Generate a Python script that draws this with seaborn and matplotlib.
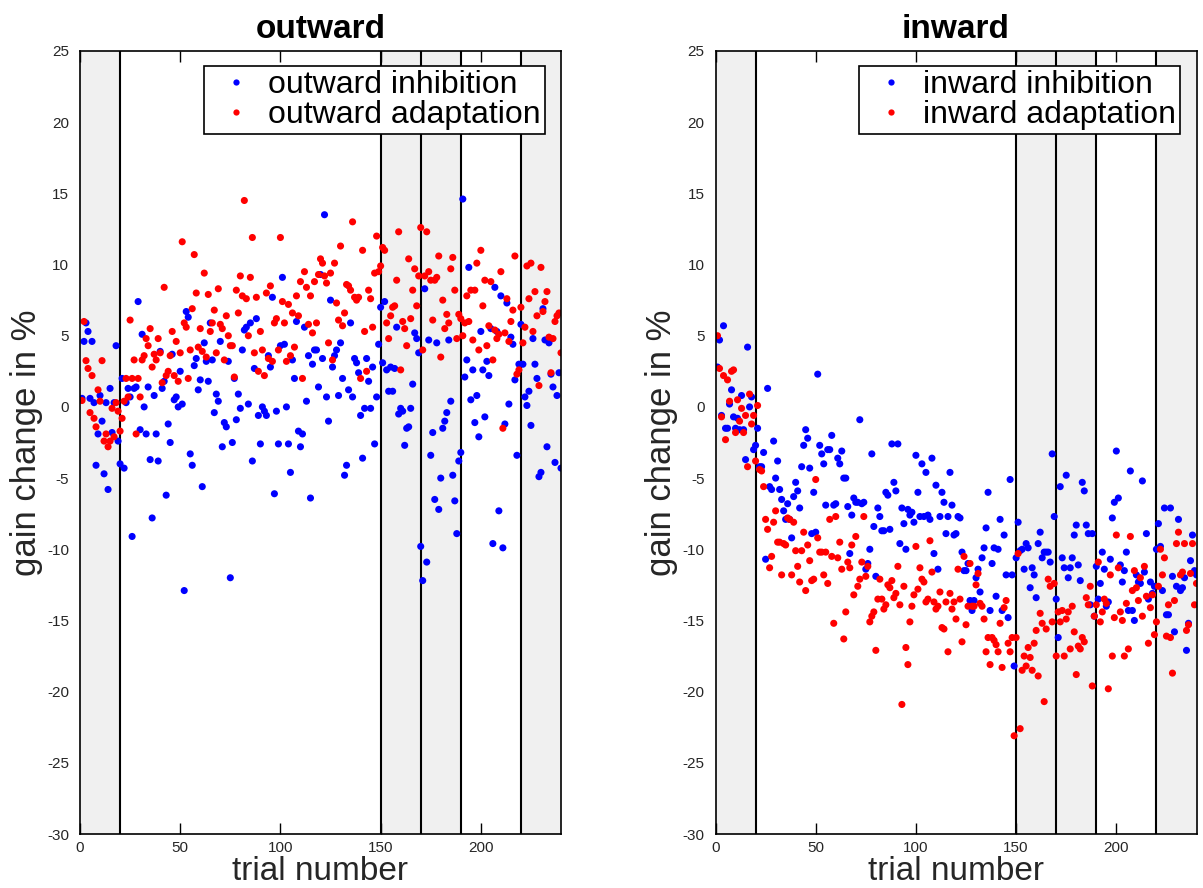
import numpy as np
import pandas as pd
import matplotlib
matplotlib.use("Agg")
import matplotlib.pyplot as plt
from matplotlib.lines import Line2D
import seaborn as sns

# trial numbers and block layout of the experiment
trials = np.arange(1, 241)
block_edges = [20, 150, 170, 190, 220]
shaded_blocks = [(0, 20), (150, 170), (170, 190), (220, 240)]
x_ticks = [0, 50, 100, 150, 200]
y_ticks = list(range(-30, 26, 5))

# gain change in % per trial
outward_inhibition = [
    0.6, 4.6, 5.9, 5.3, 0.6, 4.6, 0.3, -4.1, -1.9, 0.8,
    -1.0, -4.7, 0.3, -5.8, 1.3, -1.8, 0.3, 4.3, -2.4, -4.0,
    2.0, -4.3, 0.3, 1.3, 0.7, -9.1, 1.3, 1.4, 7.4, -1.6,
    5.1, 0.0, -1.9, 1.4, -3.7, -7.8, 0.8, -1.9, -3.8, 3.9,
    1.3, 1.8, -6.2, -1.2, -2.5, 3.7, 0.5, 0.7, 0.0, 2.5,
    0.2, -12.9, 6.7, 6.3, -3.3, -4.1, 2.9, 3.4, 1.2, 1.9,
    -5.6, 4.5, 3.2, 1.8, 5.9, 3.3, -0.4, 0.9, 0.4, 4.6,
    -2.8, -1.1, -1.4, 3.2, -12.0, -2.5, 2.0, -0.9, 0.9, -0.1,
    4.0, 5.4, 5.6, 0.2, 5.9, -3.8, 2.7, 6.2, -0.6, -2.6,
    0.0, -0.3, -0.6, 3.6, 2.8, 7.7, -6.1, -0.3, -2.6, 4.3,
    9.1, 4.4, 0.0, -2.6, -4.6, 3.3, 2.0, 6.0, -1.7, -2.8,
    -1.9, 5.6, 0.4, 3.6, -6.4, 3.0, 4.0, 4.0, 1.4, 9.3,
    3.4, 13.5, 0.7, -1.0, 7.5, 2.8, 3.6, 4.0, 0.8, 4.5,
    2.0, -4.8, -4.1, 1.2, 5.9, 0.7, 3.4, 3.1, 2.4, -0.6,
    -3.6, -0.1, 3.4, 1.8, -0.1, 2.8, -2.6, 0.7, 4.4, 7.0,
    3.1, 7.4, 2.6, 1.1, 2.8, 1.1, 2.7, 5.6, -0.5,
    -0.1, -0.3, -2.7, -1.5, -1.4, -0.1, 1.6, 5.2, 4.8, 3.8,
    -9.8, -12.2, 8.3, -10.9, 4.7, -3.4, -1.8, -6.5, 4.5, -7.2,
    -5.0, -1.5, -1.0, -0.4, 4.7, 0.4, -4.8, -6.6, -8.9, -3.8,
    -3.2, 14.6, 2.1, 3.3, 9.8, 0.5, 2.6, -1.1, 0.8, -2.1,
    5.3, 2.6, -0.7, 3.2, 2.2, 5.5, -9.6, 8.4, 5.3, -7.3,
    7.8, -9.9, -1.2, 7.3, 0.2, 4.9, 4.4, 1.9, -3.4, 3.0,
    5.8, 3.0, 0.7, 0.1, 1.1, -1.3, 4.8, 3.0, 2.0, -4.9,
    -4.6, 6.9, 4.7, -2.8, 4.5, 2.3, 1.4, -3.9, 0.8, 2.4,
    -4.3,
]

outward_adaptation = [
    0.45, 6.0, 3.25, 2.7, -0.4, 2.2, -0.8, -1.4, 1.2, 0.4,
    3.25, -2.4, -1.9, -2.8, -2.4, -0.1, -2.1, 0.3, -0.3, -1.7,
    -0.8, 0.4, 2.0, 0.7, 6.1, 2.0, 3.3, -1.9, 2.0, 0.7,
    3.3, 3.6, 4.8, 4.3, 5.5, 2.8, 3.7, 3.3, 4.8, 3.8,
    1.7, 8.4, 2.2, 2.5, 3.6, 5.3, 2.2, 4.6, 1.8, 3.8,
    11.6, 5.9, 5.6, 2.0, 4.0, 6.9, 10.7, 8.0, 4.2, 5.5,
    3.9, 9.4, 3.5, 7.9, 5.3, 5.9, 6.8, 3.8, 8.3, 5.8,
    5.5, 3.3, 6.4, 5.0, 4.3, 4.3, 2.1, 8.2, 6.6, 9.2,
    7.8, 14.5, 7.6, 5.0, 9.1, 11.9, 3.8, 7.7, 2.5, 5.3,
    4.0, 2.2, 8.0, 3.4, 8.5, 3.2, 5.9, 6.2, 4.0, 11.9,
    7.4, 5.9, 3.2, 7.2, 3.6, 6.6, 4.2, 7.8, 6.4, 8.8,
    2.0, 9.5, 8.4, 5.8, 7.8, 5.2, 8.8, 5.9, 9.3, 10.4,
    10.1, 9.2, 8.7, 4.5, 9.4, 3.3, 10.1, 7.3, 6.1, 11.3,
    5.7, 6.6, 8.6, 8.5, 8.2, 13.0, 7.7, 7.5, 7.7, 2.0,
    11.0, 5.3, 2.5, 8.2, 7.6, 5.6, 9.4, 12.0, 9.5, 9.9,
    11.2, 11.0, 5.9, 4.8, 6.4, 7.0, 7.1, 8.9, 12.3, 2.6,
    6.0,
    5.5, 4.3, 10.4, 6.2, 8.2, 9.7, 7.1, 9.2, 12.6, 4.0,
    9.2, 12.3, 9.5, 8.9, 6.1, 8.9, 9.1, 10.6, 3.5, 7.5,
    5.5, 6.5, 5.9, 9.7, 10.5, 8.2, 4.8, 6.5, 6.2, 5.0,
    5.9, 7.8, 6.0, 8.2, 4.7, 8.2, 10.1, 4.0, 11.0, 7.1,
    8.9, 4.3, 5.7, 8.8, 3.3, 5.4, 4.8, 5.1, 9.5, -1.5,
    5.2, 7.6, 4.6, 6.0, 6.8, 10.6, 2.3, 2.6, 7.0, 4.5,
    5.6, 9.9, 7.6, 10.1, 5.3, 8.1, 6.4, 1.5, 9.8, 6.7,
    7.4, 8.1, 4.9, 2.4, 4.8, 6.0, 6.4, 6.6, 3.8,
]

inward_inhibition = [
    2.8, 4.7, -0.6, 5.7, -1.5, -1.5, 0.2, 1.2, -0.7, -1.5,
    -0.8, -1.6, 0.8, -1.6, -3.7, 4.2, 0.0, 0.7, -3.0, -2.7,
    -1.5, -4.2, -4.2, -3.2, -10.7, 1.3, -5.6, -5.8, -2.4, -5.0,
    -3.8, -5.8, -6.5, -7.3, -7.9, -6.8, -7.9, -9.2, -6.3, -5.3,
    -5.9, -7.1, -4.2, -2.7, -1.6, -2.2, -4.3, -8.9, -6.0, -8.8,
    2.3, -2.7, -3.3, -4.0, -6.9, -3.0, -3.0, -2.0, -6.9, -6.8,
    -3.6, -4.0, -3.1, -5.0, -5.0, -7.0, -10.3, -7.6, -6.4, -6.7,
    -6.7, -0.9, -6.8, -6.7, -11.4, -11.0, -10.0, -3.3, -8.4, -11.9,
    -7.1, -7.7, -8.7, -8.7, -6.0, -6.2, -8.6, -2.6, -5.3, -5.9,
    -2.6, -9.6, -7.1, -8.2, -10.0, -7.2, -7.6, -7.4, -8.1, -3.4,
    -6.0, -7.7, -4.0, -7.7, -4.6, -7.6, -7.9, -3.6, -10.3, -5.5,
    -11.4, -7.7, -6.0, -6.7, -8.9, -7.7, -4.6, -6.9, -9.0, -8.9,
    -7.7, -7.8, -10.2, -11.5, -11.5, -11.0, -13.6, -14.3, -13.6, -12.0,
    -11.4, -13.0, -10.6, -9.9, -8.5, -6.0, -14.3, -11.0, -9.9, -13.3,
    -10.0, -7.9, -14.3, -9.0, -11.8, -14.8, -5.1, -11.8, -18.2, -10.6,
    -8.1, -10.1, -10.0, -11.4, -9.6, -9.9, -12.7, -11.3, -11.8,
    -13.4, -9.6, -8.8, -10.6, -10.2, -10.2, -10.2, -10.9, -3.3, -7.7,
    -13.5, -16.2, -5.6, -10.6, -11.3, -4.8, -12.0, -11.3, -10.6, -9.0,
    -8.3, -11.1, -12.2, -5.3, -5.9, -8.3, -8.9, -13.9, -8.9, -14.7,
    -11.2, -13.5, -12.4, -10.2, -11.4, -14.0, -13.7, -10.7, -7.8, -6.7,
    -3.1, -6.4, -11.1, -12.3, -11.5, -10.2, -14.3, -4.5, -14.3, -15.0,
    -11.8, -12.3, -12.4, -5.2, -11.6, -8.9, -13.5, -12.3, -13.1, -12.6,
    -10.0, -8.2, -9.8, -12.9, -7.1, -14.6, -14.6, -7.1, -11.9, -15.8,
    -12.6, -7.9, -12.9, -12.7, -12.0, -17.1, -15.2, -10.8, -9.0, -11.5,
    -11.8,
]

inward_adaptation = [
    5.0, 2.7, -0.7, 2.2, -2.3, 1.9, 0.4, 2.5, 2.6, -1.8,
    0.5, -1.0, -0.1, -1.8, -0.6, -4.2, 0.9, -1.2, -0.6, -3.8,
    0.1, -4.4, -4.5, -5.6, -7.9, -8.6, -11.3, -10.5, -8.1, -7.3,
    -9.5, -9.5, -11.8, -9.6, -9.7, -7.8, -7.9, -11.8, -8.1, -10.1,
    -11.2, -12.3, -10.1, -8.8, -12.9, -9.7, -10.8, -12.2, -12.1, -5.1,
    -9.2, -10.2, -10.2, -11.8, -10.2, -12.4, -7.9, -10.5, -15.2, -7.7,
    -10.6, -9.5, -11.4, -16.3, -14.4, -10.9, -11.3, -9.7, -13.2, -9.1,
    -12.6, -12.1, -10.9, -7.7, -11.9, -11.2, -15.1, -14.7, -14.4, -17.1,
    -13.5, -12.1, -13.5, -14.2, -13.9, -12.5, -12.7, -12.2, -13.4, -13.1,
    -11.2, -13.9, -20.9, -12.6, -16.9, -18.1, -15.1, -14.0, -13.2, -9.8,
    -12.8, -11.3, -12.1, -12.3, -13.7, -13.5, -9.4, -11.6, -13.7, -14.2,
    -14.0, -13.0, -15.5, -15.6, -13.7, -17.2, -13.1, -14.2, -13.7, -14.9,
    -11.4, -13.5, -16.5, -10.5, -15.3, -14.0, -11.0, -14.0, -14.0, -12.5,
    -11.7, -13.8, -14.0, -14.9, -17.2, -16.2, -18.1, -16.2, -16.4, -16.7,
    -17.2, -15.2, -18.3, -14.1, -13.6, -16.6, -17.2, -16.2, -23.1, -16.2,
    -10.3, -22.6, -18.5, -17.5, -18.2, -16.9, -17.6, -18.5, -16.6,
    -15.7, -18.9, -14.5, -15.2, -20.7, -15.6, -12.1, -12.6, -15.1, -12.4,
    -17.5, -14.4, -15.1, -14.3, -17.5, -14.9, -14.4, -17.0, -14.0, -15.8,
    -18.8, -16.8, -17.0, -16.2, -16.5, -13.4, -13.9, -12.6, -19.6, -14.7,
    -13.9, -10.9, -15.1, -14.4, -13.5, -13.8, -19.8, -11.8, -17.5, -14.8,
    -9.0, -11.3, -14.4, -15.0, -17.5, -13.8, -17.0, -9.1, -12.9, -11.5,
    -12.7, -13.6, -12.0, -14.7, -11.2, -13.3, -16.6, -14.1, -13.2, -16.0,
    -15.1, -12.6, -10.0, -11.8, -10.6, -16.1, -13.9, -16.2, -18.7, -13.6,
    -9.6, -8.8, -11.8, -11.6, -9.6, -15.7, -15.3, -11.7, -9.6, -13.9,
    -12.4,
]

BLUE = (0, 0, 1)
RED = (1, 0, 0)
TEXT_GREY = "#262626"


def draw_panel(ax, title, name_inh, vals_inh, name_ada, vals_ada):
    n = min(len(trials), len(vals_inh), len(vals_ada))
    df = pd.DataFrame({
        "trial": np.concatenate([trials[:n], trials[:n]]),
        "gain": list(vals_inh[:n]) + list(vals_ada[:n]),
        "series": [name_inh] * n + [name_ada] * n,
    })

    for lo, hi in shaded_blocks:
        ax.axvspan(lo, hi, facecolor="#f0f0f0", edgecolor="none", zorder=0)
    for x in block_edges:
        ax.axvline(x, color="black", lw=1.5, zorder=1)

    sns.scatterplot(data=df, x="trial", y="gain", hue="series",
                    palette=[BLUE, RED], s=26, linewidth=0,
                    legend=False, ax=ax, zorder=3)

    ax.set_xlim(0, 240)
    ax.set_ylim(-30, 25)
    ax.set_xticks(x_ticks)
    ax.set_yticks(y_ticks)
    ax.tick_params(axis="x", direction="in", bottom=True, top=True, length=8,
                   width=1, color="black", labelsize=11, labelcolor=TEXT_GREY, pad=5)
    ax.tick_params(axis="y", length=0, labelsize=11, labelcolor=TEXT_GREY, pad=8)
    for sp in ax.spines.values():
        sp.set_color("black")
        sp.set_linewidth(1.2)
        sp.set_zorder(4)

    ax.set_xlabel("trial number", fontsize=24, color=TEXT_GREY, labelpad=1)
    ax.set_ylabel("gain change in %", fontsize=25, color=TEXT_GREY, labelpad=3)
    ax.set_title(title, fontsize=24, fontweight="bold", color="black", pad=9)

    handles = [
        Line2D([], [], marker="o", linestyle="", color=BLUE, markersize=4.5, markeredgewidth=0),
        Line2D([], [], marker="o", linestyle="", color=RED, markersize=4.5, markeredgewidth=0),
    ]
    leg = ax.legend(handles, [name_inh, name_ada], loc="upper right",
                    bbox_to_anchor=(0.966, 0.981), borderaxespad=0,
                    fontsize=23, frameon=True, fancybox=False, framealpha=1,
                    edgecolor="black", borderpad=0.12, labelspacing=0.02,
                    handlelength=1.8, handletextpad=0.1)
    leg.get_frame().set_linewidth(1.2)
    for txt in leg.get_texts():
        txt.set_color("black")
    leg.set_zorder(10)


def main():
    sns.set_style("white")
    plt.rcParams["font.family"] = ["Liberation Sans", "DejaVu Sans"]
    plt.rcParams["axes.unicode_minus"] = False

    fig = plt.figure(figsize=(12.03, 8.88), dpi=100)
    ax_out = fig.add_axes([80 / 1203, 54 / 888, 481 / 1203, 783 / 888])
    ax_in = fig.add_axes([715.5 / 1203, 54 / 888, 481 / 1203, 783 / 888])

    draw_panel(ax_out, "outward", "outward inhibition", outward_inhibition,
               "outward adaptation", outward_adaptation)
    draw_panel(ax_in, "inward", "inward inhibition", inward_inhibition,
               "inward adaptation", inward_adaptation)

    fig.savefig("out.png", dpi=100)
    print("saved out.png")


if __name__ == "__main__":
    main()
